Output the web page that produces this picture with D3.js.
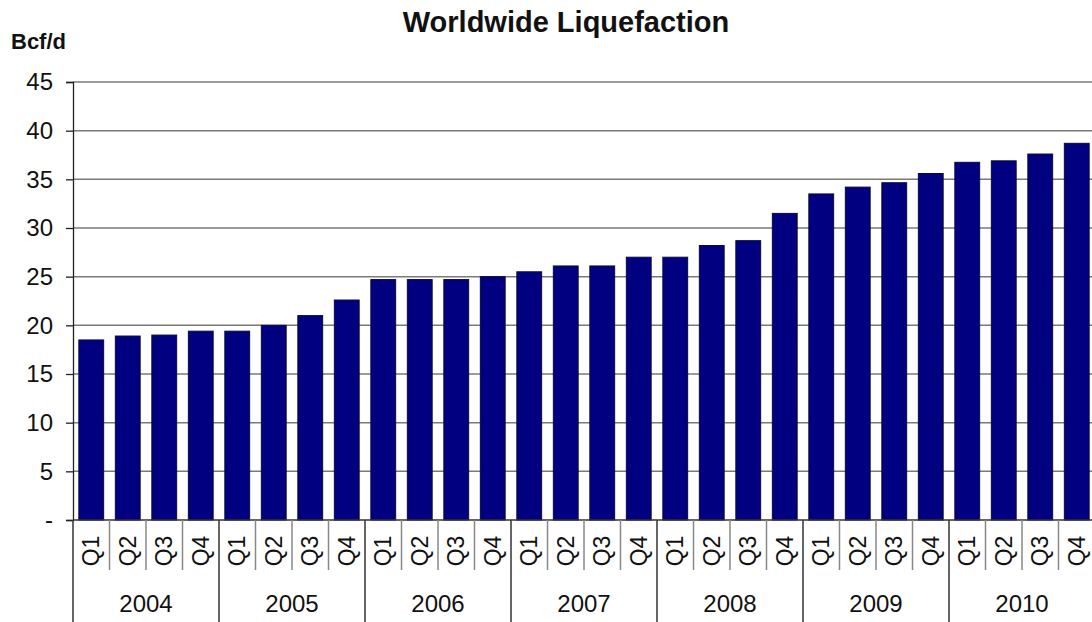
<!DOCTYPE html>
<html>
<head>
<meta charset="utf-8">
<script src="https://cdn.jsdelivr.net/npm/d3@7"></script>
<style>
  body { margin: 0; background: #fff; }
  svg { display: block; }
  text { font-family: "Liberation Sans", Arial, sans-serif; fill: #111; }
</style>
</head>
<body>
<script>
// values (Bcf/d per quarter)
var years = ["2004", "2005", "2006", "2007", "2008", "2009", "2010"]
var quarters = ["Q1", "Q2", "Q3", "Q4"]
var values = [
  18.5, 18.9, 19.0, 19.4,
  19.4, 20.0, 21.0, 22.6,
  24.7, 24.7, 24.7, 25.0,
  25.5, 26.1, 26.1, 27.0,
  27.0, 28.2, 28.7, 31.5,
  33.5, 34.2, 34.65, 35.6,
  36.75, 36.9, 37.6, 38.7
]
var yTicks = [0, 5, 10, 15, 20, 25, 30, 35, 40, 45]

var width = 1092, height = 622
var plotLeft = 73, plotRight = 1095, plotTop = 82, plotBottom = 520

var cats = []
years.forEach(function (y) {
  quarters.forEach(function (q) { cats.push(y + " " + q) })
})

var svg = d3.select("body").append("svg")
  .attr("width", width)
  .attr("height", height)

var x = d3.scaleBand()
  .domain(cats)
  .range([plotLeft, plotRight])
  .paddingInner(0.32)
  .paddingOuter(0.16)

var step = x.step()

var y = d3.scaleLinear()
  .domain([0, 45])
  .range([plotBottom, plotTop])

// title + unit
svg.append("text")
  .attr("x", 566).attr("y", 32)
  .attr("text-anchor", "middle")
  .style("font-size", "29px")
  .style("font-weight", "bold")
  .text("Worldwide Liquefaction")

svg.append("text")
  .attr("x", 11).attr("y", 49)
  .style("font-size", "22px")
  .style("font-weight", "bold")
  .text("Bcf/d")

// gridlines
svg.append("g").selectAll("line")
  .data(yTicks.slice(1))
  .enter().append("line")
  .attr("x1", plotLeft).attr("x2", width)
  .attr("y1", function (d) { return y(d) })
  .attr("y2", function (d) { return y(d) })
  .attr("stroke", "#7a7a7a")
  .attr("stroke-width", 1.5)

// y axis
var yAxis = d3.axisLeft(y)
  .tickValues(yTicks)
  .tickSize(7)
  .tickPadding(6)
  .tickFormat(function (d) { return d === 0 ? "-" : d })

var gy = svg.append("g")
  .attr("transform", "translate(" + plotLeft + ",0)")
  .call(yAxis)
gy.select(".domain").attr("stroke", "#222").attr("stroke-width", 1.3)
gy.selectAll(".tick line").attr("stroke", "#222").attr("stroke-width", 1.3)
gy.selectAll(".tick text")
  .style("font-size", "24px")
  .style("font-family", "Liberation Sans, Arial, sans-serif")
  .attr("fill", "#111")
  .attr("x", -20)

// bars
svg.append("g").selectAll("rect")
  .data(values)
  .enter().append("rect")
  .attr("x", function (d, i) { return x(cats[i]) })
  .attr("width", x.bandwidth())
  .attr("y", function (d) { return y(d) })
  .attr("height", function (d) { return y(0) - y(d) })
  .attr("fill", "#000080")
  .attr("stroke", "#0a0a3a")
  .attr("stroke-width", 1)

// baseline
svg.append("line")
  .attr("x1", plotLeft).attr("x2", width)
  .attr("y1", plotBottom).attr("y2", plotBottom)
  .attr("stroke", "#333").attr("stroke-width", 1.5)

// category separators: short for quarters, long for years
var seps = d3.range(cats.length + 1)
svg.append("g").selectAll("line")
  .data(seps)
  .enter().append("line")
  .attr("x1", function (i) { return plotLeft + i * step })
  .attr("x2", function (i) { return plotLeft + i * step })
  .attr("y1", plotBottom)
  .attr("y2", function (i) { return i % 4 === 0 ? height : 570 })
  .attr("stroke", function (i) { return i % 4 === 0 ? "#333" : "#888" })
  .attr("stroke-width", 1.5)

// quarter labels (rotated)
svg.append("g").selectAll("text")
  .data(cats)
  .enter().append("text")
  .attr("transform", function (d) {
    return "translate(" + (x(d) + x.bandwidth() / 2 + 8) + ",551) rotate(-90)"
  })
  .attr("text-anchor", "middle")
  .style("font-size", "23px")
  .text(function (d) { return d.split(" ")[1] })

// year labels
svg.append("g").selectAll("text")
  .data(years)
  .enter().append("text")
  .attr("x", function (d, i) { return plotLeft + (i * 4 + 2) * step })
  .attr("y", 612)
  .attr("text-anchor", "middle")
  .style("font-size", "24px")
  .text(function (d) { return d })
</script>
</body>
</html>
